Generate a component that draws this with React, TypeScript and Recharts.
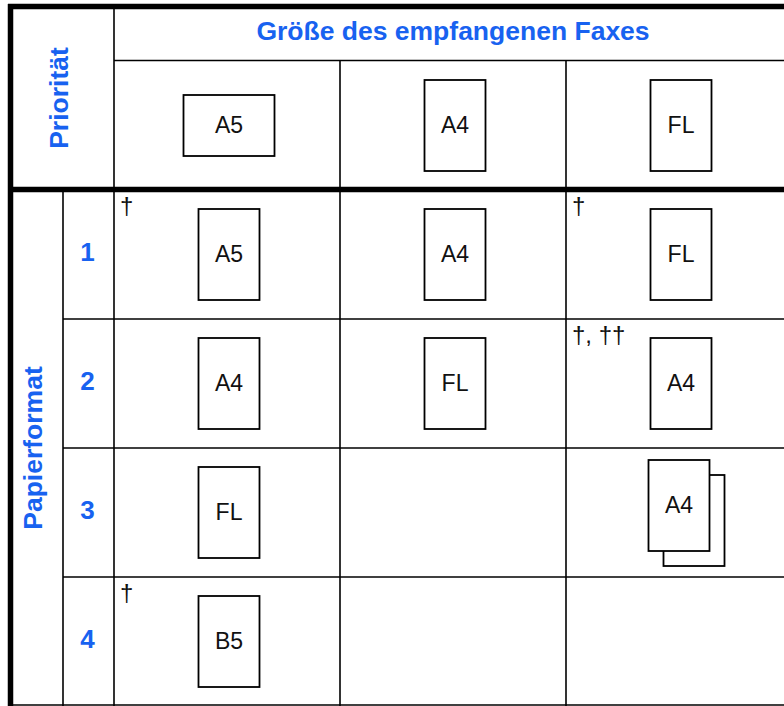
import React from 'react';
import { ScatterChart, Scatter, XAxis, YAxis, ReferenceLine } from 'recharts';

// table content
const receivedTitle = 'Größe des empfangenen Faxes';
const priorityTitle = 'Priorität';
const paperTitle = 'Papierformat';
const receivedSizes = ['A5', 'A4', 'FL'];
const receivedLandscape = [true, false, false];
const priorities = ['1', '2', '3', '4'];
const cellPapers = [
  ['A5', 'A4', 'FL'],
  ['A4', 'FL', 'A4'],
  ['FL', '', 'A4'],
  ['B5', '', ''],
];
const cellSheets = [
  [1, 1, 1],
  [1, 1, 1],
  [1, 0, 2],
  [1, 0, 0],
];
const cellNotes = [
  ['†', '', '†'],
  ['', '', '†, ††'],
  ['', '', ''],
  ['†', '', ''],
];

// layout: one x unit = one size column, one y unit = one priority row
const W = 792;
const H = 712;
const X0 = 114;
const COL = 226;
const Y0 = 190;
const ROW = 129;
const ux = (px: number) => (px - X0) / COL;
const uy = (px: number) => (px - Y0) / ROW;

const BLUE = '#1862f0';
const INK = '#111';
const FONT = '"Liberation Sans", Arial, Helvetica, sans-serif';

const paperPoints = [
  ...receivedSizes.map((s, c) => ({ x: c + 0.5, y: -0.5, label: s, landscape: receivedLandscape[c], sheets: 1 })),
  ...cellPapers.flatMap((row, r) =>
    row.map((s, c) => ({ x: c + 0.5, y: r + 0.5, label: s, landscape: false, sheets: cellSheets[r][c] }))
  ),
].filter((p) => p.sheets > 0);

const notePoints = cellNotes
  .flatMap((row, r) => row.map((n, c) => ({ x: c, y: r, note: n })))
  .filter((p) => p.note);

const priorityPoints = priorities.map((p, r) => ({ x: ux(87.5), y: r + 0.5, text: p }));

const titlePoints = [
  { x: 1.5, y: uy(39.5), text: receivedTitle, rotate: false },
  { x: ux(67.5), y: uy(98), text: priorityTitle, rotate: true },
  { x: ux(42), y: uy(448), text: paperTitle, rotate: true },
];

const Sheet = ({ cx, cy, w, h, label }: any) => (
  <g>
    <rect x={cx - w / 2} y={cy - h / 2} width={w} height={h} fill="#fff" stroke="#000" strokeWidth={1.8} />
    {label ? (
      <text x={cx} y={cy + 7} textAnchor="middle" fontFamily={FONT} fontSize={23} fill={INK}>
        {label}
      </text>
    ) : null}
  </g>
);

const PaperShape = (props: any) => {
  const { cx, cy, payload } = props;
  const w = payload.landscape ? 91 : 61;
  const h = payload.landscape ? 61 : 91;
  const x = cx + 2;
  if (payload.sheets > 1) {
    return (
      <g>
        <Sheet cx={x + 13} cy={cy + 8} w={w} h={h} />
        <Sheet cx={x - 2} cy={cy - 7} w={w} h={h} label={payload.label} />
      </g>
    );
  }
  return <Sheet cx={x} cy={cy} w={w} h={h} label={payload.label} />;
};

const NoteShape = (props: any) => {
  const { cx, cy, payload } = props;
  return (
    <text x={cx + 6} y={cy + 24} fontFamily={FONT} fontSize={24} fill={INK} style={{ whiteSpace: 'pre' }}>
      {payload.note}
    </text>
  );
};

const PriorityShape = (props: any) => {
  const { cx, cy, payload } = props;
  return (
    <text x={cx} y={cy + 6} textAnchor="middle" fontFamily={FONT} fontWeight="bold" fontSize={26} fill={BLUE}>
      {payload.text}
    </text>
  );
};

const TitleShape = (props: any) => {
  const { cx, cy, payload } = props;
  return (
    <text
      x={cx}
      y={cy}
      textAnchor="middle"
      fontFamily={FONT}
      fontWeight="bold"
      fontSize={26.5}
      fill={BLUE}
      transform={payload.rotate ? `rotate(-90 ${cx} ${cy})` : undefined}
    >
      {payload.text}
    </text>
  );
};

const seg = (x1: number, y1: number, x2: number, y2: number) => [
  { x: x1, y: y1 },
  { x: x2, y: y2 },
];

const thinLines = [
  seg(0, uy(60.5), ux(W), uy(60.5)),
  seg(0, uy(6.5), 0, uy(H)),
  seg(1, uy(60.5), 1, uy(H)),
  seg(2, uy(60.5), 2, uy(H)),
  seg(ux(63), 0, ux(63), uy(H)),
  seg(ux(63), 1, ux(W), 1),
  seg(ux(63), 2, ux(W), 2),
  seg(ux(63), 3, ux(W), 3),
  seg(ux(10), uy(705), ux(W), uy(705)),
];

const thickLines = [
  seg(ux(8), uy(6.5), ux(W), uy(6.5)),
  seg(ux(10.5), uy(4), ux(10.5), uy(H)),
  seg(ux(8), uy(189.5), ux(W), uy(189.5)),
];

export default function App() {
  return (
    <div style={{ position: 'absolute', left: 0, top: 0, width: 784, height: 706, overflow: 'hidden', background: '#fff' }}>
      <ScatterChart width={W} height={H} margin={{ top: 0, right: 0, bottom: 0, left: 0 }}>
        <XAxis type="number" dataKey="x" domain={[ux(0), ux(W)]} allowDataOverflow hide />
        <YAxis type="number" dataKey="y" domain={[uy(0), uy(H)]} allowDataOverflow reversed hide />
        {thinLines.map((s, i) => (
          <ReferenceLine key={`t${i}`} segment={s} stroke="#000" strokeWidth={1.6} ifOverflow="visible" />
        ))}
        {thickLines.map((s, i) => (
          <ReferenceLine key={`k${i}`} segment={s} stroke="#000" strokeWidth={5.5} ifOverflow="visible" />
        ))}
        <Scatter data={paperPoints} shape={PaperShape} isAnimationActive={false} />
        <Scatter data={notePoints} shape={NoteShape} isAnimationActive={false} />
        <Scatter data={priorityPoints} shape={PriorityShape} isAnimationActive={false} />
        <Scatter data={titlePoints} shape={TitleShape} isAnimationActive={false} />
      </ScatterChart>
    </div>
  );
}
